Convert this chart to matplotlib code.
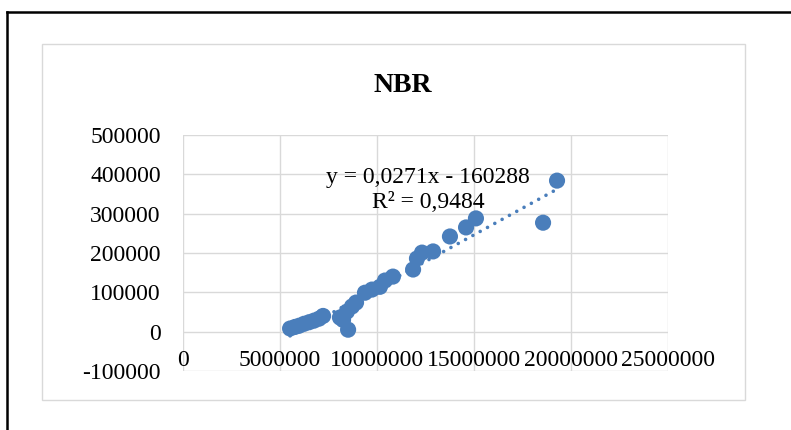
import numpy as np
import matplotlib
matplotlib.use("Agg")
import matplotlib.pyplot as plt
from matplotlib.lines import Line2D
from matplotlib.patches import Rectangle

# data
nbr_x = [5520000, 5770000, 5980000, 6240000, 6500000, 6750000, 7010000, 7220000,
         8090000, 8250000, 8510000, 8450000, 8710000, 8920000, 9380000, 9740000,
         10150000, 10410000, 10820000, 11860000, 12060000, 12320000, 12890000,
         13760000, 14590000, 15100000, 18560000, 19280000]
nbr_y = [8000, 12000, 15000, 20000, 24000, 28000, 33000, 40000,
         36000, 30000, 5000, 51000, 64000, 74000, 99000, 107000,
         114000, 130000, 140000, 158000, 186000, 201000, 204000,
         242000, 265000, 288000, 277000, 384000]
x_ticks = [0, 5000000, 10000000, 15000000, 20000000, 25000000]
y_ticks = [-100000, 0, 100000, 200000, 300000, 400000, 500000]
title = "NBR"
eq_text = "y = 0,0271x - 160288\nR\u00b2 = 0,9484"

blue = "#4a7ebb"
grid_col = "#d9d9d9"
font = "Liberation Serif"

fig = plt.figure(figsize=(7.91, 4.30), dpi=100)
W, H = 791.0, 430.0

# outer black frame (left and top edges)
fig.add_artist(Line2D([7 / W, 7 / W], [0, 1 - 12 / H], color="black", lw=1.8))
fig.add_artist(Line2D([7 / W, 1], [1 - 12 / H, 1 - 12 / H], color="black", lw=1.8))
# chart area box
fig.add_artist(Rectangle((42 / W, 1 - 400 / H), (745 - 42) / W, (400 - 44) / H,
                         fill=False, edgecolor=grid_col, lw=1.0))

ax = fig.add_axes([183 / W, 1 - 371 / H, (668 - 183) / W, (371 - 135) / H])
ax.set_xlim(x_ticks[0], x_ticks[-1])
ax.set_ylim(y_ticks[0], y_ticks[-1])

ax.set_xticks(x_ticks)
ax.set_xticklabels([str(v) for v in x_ticks])
ax.set_yticks(y_ticks)
ax.set_yticklabels([str(v) for v in y_ticks])
ax.grid(True, color=grid_col, lw=1.0)
ax.set_axisbelow(True)
for s in ax.spines.values():
    s.set_visible(False)
ax.spines["bottom"].set_position(("data", 0))
ax.tick_params(axis="both", length=0, labelsize=17)
ax.tick_params(axis="x", pad=13)
ax.tick_params(axis="y", pad=16)
for lab in ax.get_xticklabels() + ax.get_yticklabels():
    lab.set_fontfamily(font)

# linear trend
xa = np.array(nbr_x, dtype=float)
ya = np.array(nbr_y, dtype=float)
k, b = 0.0271, -160288
xs = np.array([xa.min(), xa.max()])
ax.plot(xs, k * xs + b, color=blue, lw=2.6, linestyle=(0, (0.01, 2.3)),
        dash_capstyle="round", zorder=2)

ax.scatter(xa, ya, s=135, color=blue, edgecolors="none", zorder=3)

fig.text(428 / W, 1 - 190 / H, eq_text, ha="center", va="center",
         fontsize=17, family=font, linespacing=1.25)
fig.text(403 / W, 1 - 85 / H, title, ha="center", va="center",
         fontsize=20, fontweight="bold", family=font)

fig.savefig("out.png", dpi=100)
